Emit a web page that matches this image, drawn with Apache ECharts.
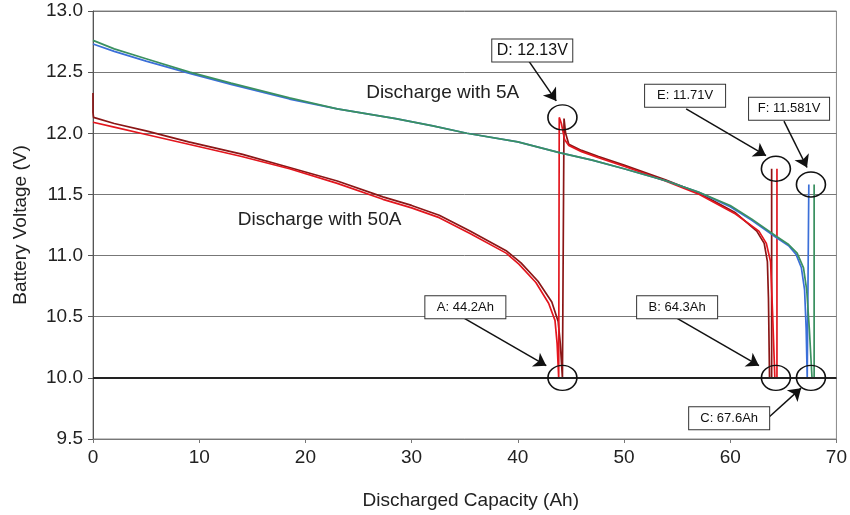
<!DOCTYPE html>
<html>
<head>
<meta charset="utf-8">
<script src="https://cdn.jsdelivr.net/npm/echarts@6/dist/echarts.min.js"></script>
<style>
html,body{margin:0;padding:0;background:#fff;}
#chart{width:850px;height:515px;}
</style>
</head>
<body>
<div id="chart"></div>
<script>
// ---- axis ticks ----
const xTicks = [0, 10, 20, 30, 40, 50, 60, 70];
const yTicks = [9.5, 10.0, 10.5, 11.0, 11.5, 12.0, 12.5, 13.0];

// ---- series: 50A then 5A (bright red) ----
const xRedA = [0, 2, 5, 9, 14, 18.5, 23, 27.3, 30, 32.6, 35.5, 38.9, 40.1, 41.7, 42.9, 43.5, 43.7, 43.85, 43.9, 43.9, 44.1, 44.4, 44.8, 46, 47.6, 50, 53.9, 57.1, 60.5, 62.7, 63.4, 63.8, 64.0, 64.2, 64.4, 64.4];
const yRedA = [12.09, 12.05, 11.99, 11.91, 11.81, 11.71, 11.59, 11.46, 11.39, 11.31, 11.18, 11.02, 10.93, 10.78, 10.61, 10.47, 10.28, 10.0, 10.0, 12.13, 12.08, 11.95, 11.90, 11.85, 11.80, 11.73, 11.61, 11.50, 11.34, 11.20, 11.10, 10.95, 10.5, 10.0, 10.0, 11.71];

// ---- series: 50A then 5A (dark red) ----
const xRedB = [0, 0, 0.05, 2, 5, 9, 14, 18.5, 23, 27.3, 30, 32.6, 35.5, 38.9, 40.3, 41.9, 43.2, 43.8, 44.0, 44.2, 44.35, 44.35, 44.5, 44.8, 46, 47.6, 50, 53.9, 57.1, 60.5, 62.5, 63.2, 63.5, 63.6, 63.7, 63.9, 63.9];
const yRedB = [12.33, 12.17, 12.13, 12.08, 12.02, 11.93, 11.83, 11.72, 11.61, 11.48, 11.41, 11.33, 11.20, 11.04, 10.94, 10.79, 10.62, 10.46, 10.28, 10.0, 10.0, 12.12, 12.0, 11.91, 11.86, 11.81, 11.74, 11.62, 11.51, 11.35, 11.20, 11.10, 10.95, 10.65, 10.0, 10.0, 11.71];

// ---- series: 5A (blue) ----
const xBlue = [0, 2, 5, 9.1, 13, 18.5, 23, 28.5, 32, 35.2, 40, 44, 47, 50, 54, 57, 60, 62, 64.3, 65.5, 66.2, 66.7, 67.0, 67.15, 67.25, 67.4, 67.4];
const yBlue = [12.73, 12.67, 12.59, 12.49, 12.40, 12.28, 12.20, 12.12, 12.06, 12.0, 11.93, 11.84, 11.78, 11.71, 11.61, 11.52, 11.40, 11.29, 11.15, 11.08, 11.01, 10.90, 10.72, 10.4, 10.0, 10.0, 11.581];

// ---- series: 5A (green) ----
const xGreen = [0, 2, 5, 9.1, 13, 18.5, 23, 28.5, 32, 35.2, 40, 44, 47, 50, 54, 57, 60, 62, 64.3, 65.5, 66.3, 66.9, 67.2, 67.45, 67.7, 67.9, 67.9];
const yGreen = [12.76, 12.69, 12.61, 12.50, 12.41, 12.29, 12.20, 12.12, 12.06, 12.0, 11.93, 11.84, 11.78, 11.71, 11.61, 11.52, 11.41, 11.30, 11.16, 11.09, 11.02, 10.90, 10.72, 10.4, 10.0, 10.0, 11.581];

// ---- annotation points (circled values) ----
const circleX = [44.2, 64.3, 67.6, 44.2, 64.3, 67.6];
const circleY = [12.13, 11.71, 11.581, 10.0, 10.0, 10.0];

// ---- annotation label texts and anchors ----
const boxTexts = ['D: 12.13V', 'E: 11.71V', 'F: 11.581V', 'A: 44.2Ah', 'B: 64.3Ah', 'C: 67.6Ah'];
const boxX = [41.36, 55.75, 65.54, 35.06, 55.0, 59.9];
const boxY = [12.677, 12.306, 12.20, 10.577, 10.577, 9.67];
const arrowFromX = [40.89, 55.85, 65.06, 34.97, 55.0, 63.66];
const arrowFromY = [12.608, 12.20, 12.10, 10.487, 10.487, 9.68];
const arrowToX = [43.62, 63.37, 67.23, 42.68, 62.71, 66.67];
const arrowToY = [12.265, 11.817, 11.72, 10.10, 10.10, 9.916];

const noteTexts = ['Discharge with 5A', 'Discharge with 50A'];
const noteX = [32.93, 21.33];
const noteY = [12.33, 11.29];

const zip = (xs, ys) => xs.map((x, i) => [x, ys[i]]);
const FONT = '"Liberation Sans", Arial, sans-serif';

function lineSeries(name, xs, ys, color) {
  return {
    name: name, type: 'line', data: zip(xs, ys), showSymbol: false, symbol: 'none',
    lineStyle: { color: color, width: 1.7 }, itemStyle: { color: color }, z: 3
  };
}

const chart = echarts.init(document.getElementById('chart'), null, { renderer: 'canvas' });

const circleData = circleX.map((x, i) => ({
  coord: [x, circleY[i]], symbol: 'circle', symbolSize: [29, 25],
  itemStyle: { color: 'rgba(0,0,0,0)', borderColor: '#111', borderWidth: 1.5 },
  label: { show: false }
}));
const boxData = boxTexts.map((t, i) => ({
  coord: [boxX[i], boxY[i]], symbol: 'rect', symbolSize: 0,
  label: {
    show: true, position: 'inside', formatter: t,
    fontFamily: FONT, fontSize: i === 0 ? 16 : 13, color: '#111',
    backgroundColor: '#fff', borderColor: '#333', borderWidth: 1,
    width: 80, height: 22, lineHeight: 22, align: 'center', verticalAlign: 'middle', padding: 0
  }
}));
const noteData = noteTexts.map((t, i) => ({
  coord: [noteX[i], noteY[i]], symbol: 'rect', symbolSize: 0,
  label: { show: true, position: 'inside', formatter: t, fontFamily: FONT, fontSize: 19, color: '#222' }
}));
const arrowData = boxTexts.map((t, i) => [
  { coord: [arrowFromX[i], arrowFromY[i]] },
  { coord: [arrowToX[i], arrowToY[i]] }
]);

chart.setOption({
  animation: false,
  backgroundColor: '#fff',
  grid: { left: 93, right: 13, top: 11, bottom: 76, show: true, borderColor: '#888', borderWidth: 1 },
  xAxis: {
    type: 'value', min: 0, max: 70, interval: 10,
    name: 'Discharged Capacity (Ah)', nameLocation: 'middle', nameGap: 52,
    nameTextStyle: { fontFamily: FONT, fontSize: 19, color: '#222', padding: [0, 0, 0, 12] },
    axisLine: { show: true, lineStyle: { color: '#777', width: 1 } },
    axisTick: { show: true, length: 4, lineStyle: { color: '#777' } },
    axisLabel: { fontFamily: FONT, fontSize: 19, color: '#222', margin: 9,
      formatter: v => xTicks.includes(v) ? String(v) : '' },
    splitLine: { show: false }
  },
  yAxis: {
    type: 'value', min: 9.5, max: 13.0, interval: 0.5,
    name: 'Battery Voltage (V)', nameLocation: 'middle', nameGap: 63,
    nameTextStyle: { fontFamily: FONT, fontSize: 19, color: '#222' },
    axisLine: { show: true, lineStyle: { color: '#555', width: 1 } },
    axisTick: { show: true, length: 5, lineStyle: { color: '#555' } },
    axisLabel: { fontFamily: FONT, fontSize: 19, color: '#222', margin: 10,
      formatter: v => { const t = yTicks.find(y => Math.abs(y - v) < 1e-6); return t !== undefined ? t.toFixed(1) : ''; } },
    splitLine: { show: true, lineStyle: { color: '#777', width: 1 } }
  },
  series: [
    {
      name: 'ref10', type: 'line', data: [], silent: true,
      markLine: { silent: true, symbol: 'none', animation: false,
        label: { show: false },
        lineStyle: { color: '#222', width: 2, type: 'solid' },
        data: [{ yAxis: 10.0 }] }
    },
    lineSeries('50A→5A (2)', xRedB, yRedB, '#8a1616'),
    lineSeries('50A→5A (1)', xRedA, yRedA, '#e3161e'),
    lineSeries('5A (1)', xBlue, yBlue, '#3b6fd8'),
    lineSeries('5A (2)', xGreen, yGreen, '#3a9060'),
    {
      name: 'annotations', type: 'line', data: [], silent: true, z: 10,
      markPoint: { silent: true, animation: false, data: circleData.concat(boxData, noteData) },
      markLine: { silent: true, animation: false, symbol: ['none', 'arrow'], symbolSize: 12,
        label: { show: false },
        lineStyle: { color: '#111', width: 1.5, type: 'solid' },
        itemStyle: { color: '#111' },
        data: arrowData }
    }
  ]
});
</script>
</body>
</html>
